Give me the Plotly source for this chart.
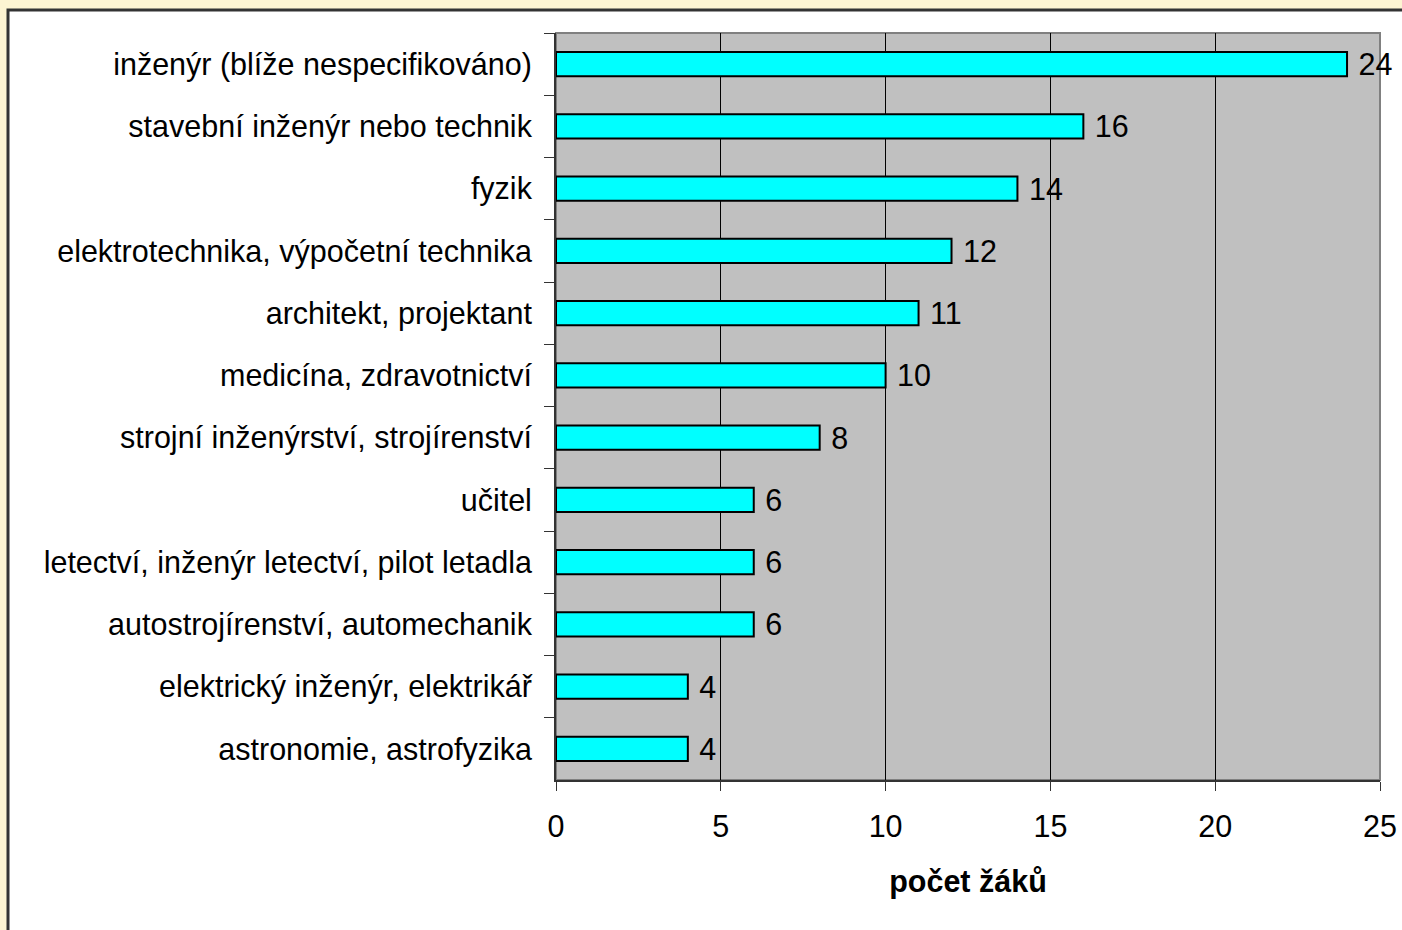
import plotly.graph_objects as go

categories = [
    "inženýr (blíže nespecifikováno)",
    "stavební inženýr nebo technik",
    "fyzik",
    "elektrotechnika, výpočetní technika",
    "architekt, projektant",
    "medicína, zdravotnictví",
    "strojní inženýrství, strojírenství",
    "učitel",
    "letectví, inženýr letectví, pilot letadla",
    "autostrojírenství, automechanik",
    "elektrický inženýr, elektrikář",
    "astronomie, astrofyzika",
]
values = [24, 16, 14, 12, 11, 10, 8, 6, 6, 6, 4, 4]
x_ticks = [0, 5, 10, 15, 20, 25]
x_title = "počet žáků"

W, H = 1402, 930
ML, MR, MT, MB = 556, 22, 33, 150
PW = W - ML - MR
PH = H - MT - MB

def px(x):
    return (x - ML) / PW

def py(y):
    return (H - MB - y) / PH

FONT = "Liberation Sans, Arial, sans-serif"
FS = 30.5

fig = go.Figure()
fig.add_trace(go.Bar(
    x=values,
    y=categories,
    orientation="h",
    marker=dict(color="#00FFFF", line=dict(color="#000000", width=2)),
    text=values,
    texttemplate="\u00a0%{text}",
    textposition="outside",
    constraintext="none",
    textfont=dict(family=FONT, size=FS, color="#000000"),
    cliponaxis=False,
    width=0.39,
))

fig.update_layout(
    width=W, height=H,
    margin=dict(l=ML, r=MR, t=MT, b=MB, pad=0, autoexpand=False),
    paper_bgcolor="#FDF4D2",
    plot_bgcolor="#C0C0C0",
    font=dict(family=FONT, size=FS, color="#000000"),
    showlegend=False,
    shapes=[
        dict(type="rect", xref="paper", yref="paper", layer="below",
             x0=px(8), x1=px(1420), y0=py(950), y1=py(10),
             fillcolor="#FFFFFF", line=dict(color="#333333", width=3)),
        dict(type="rect", xref="paper", yref="paper", layer="below",
             x0=0, x1=1, y0=0, y1=1,
             fillcolor="#C0C0C0", line=dict(color="#808080", width=2)),
    ],
)

fig.update_xaxes(
    range=[0, 25],
    tickvals=x_ticks,
    ticktext=[str(v) for v in x_ticks],
    showgrid=True, gridcolor="#000000", gridwidth=1,
    zeroline=False,
    showline=True, linecolor="#333333", linewidth=2,
    ticks="outside", ticklen=9, tickcolor="#333333", tickwidth=1,
    ticklabelstandoff=9,
    tickfont=dict(family=FONT, size=FS),
    title=dict(text="<b>" + x_title + "</b>", font=dict(family=FONT, size=FS), standoff=29),
    automargin=False,
    fixedrange=True,
)
fig.update_yaxes(
    type="category",
    autorange="reversed",
    showgrid=False,
    zeroline=False,
    showline=True, linecolor="#333333", linewidth=2,
    ticks="outside", ticklen=10, tickcolor="#333333", tickwidth=1,
    tickson="boundaries",
    ticklabelstandoff=16,
    tickfont=dict(family=FONT, size=FS),
    automargin=False,
    fixedrange=True,
)

fig.write_html("out.html", config={"displayModeBar": False})
